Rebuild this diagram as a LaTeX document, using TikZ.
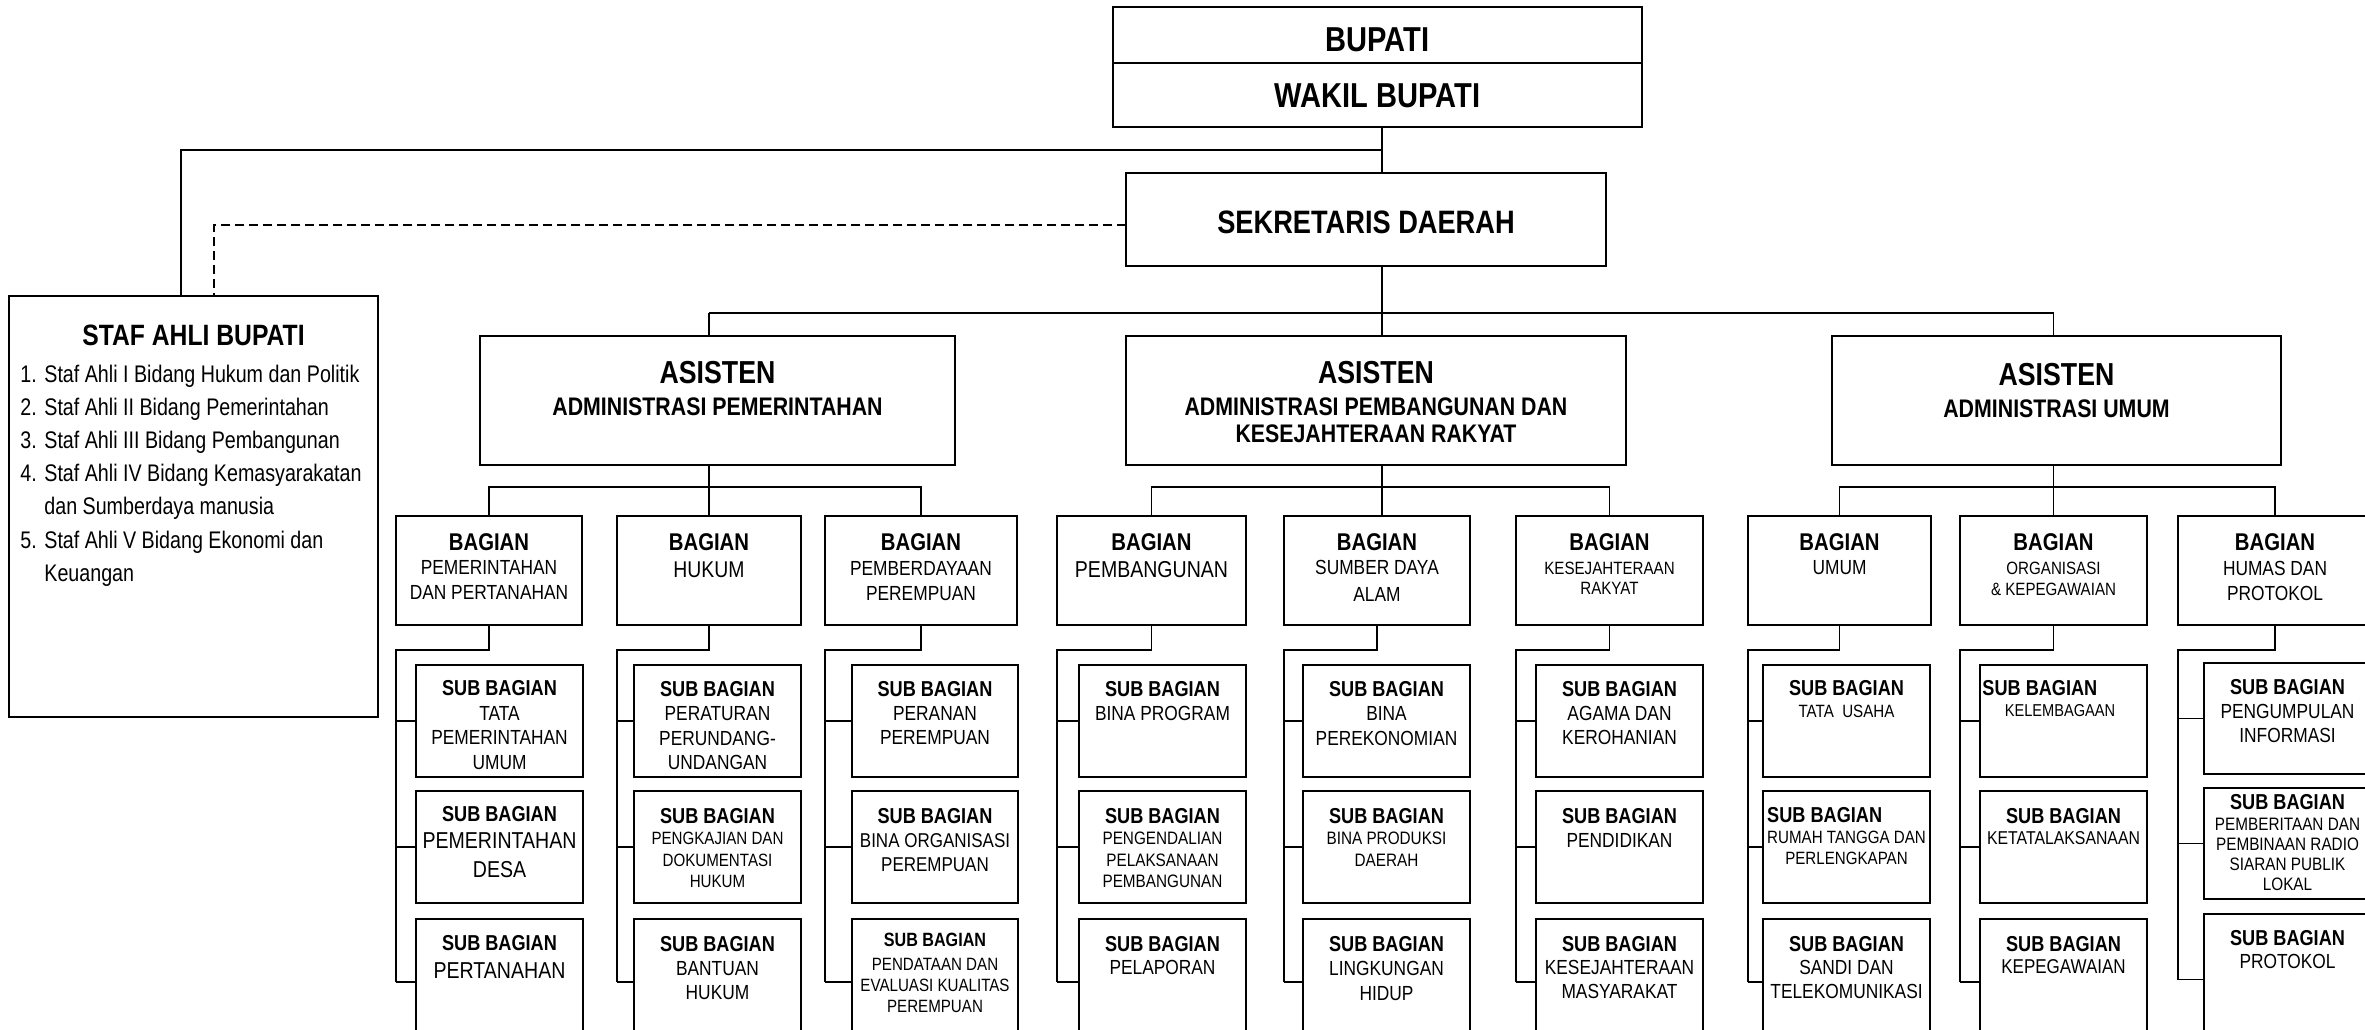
\documentclass[tikz,border=0pt]{standalone}
\usepackage{fontspec}
\setmainfont{Liberation Sans}
\newfontfamily\wfont{Liberation Sans}[FakeStretch=0.84]
\newfontfamily\nfont{Liberation Sans}[FakeStretch=0.85]
\newfontfamily\lfont{Liberation Sans}[FakeStretch=0.82]
\newcommand\ostk[4][\nfont]{\vtop{#1\fontsize{#2}{#3}\selectfont\halign{\hfil##\hfil\cr#4\crcr}}}
\newcommand\oSB{{\wfont\bfseries\fontsize{10.8pt}{11pt}\selectfont SUB BAGIAN}}
\newcommand\oSBs{{\wfont\bfseries\fontsize{9.6pt}{10pt}\selectfont SUB BAGIAN}}
\newcommand\oHB{{\wfont\bfseries\fontsize{12.1pt}{12pt}\selectfont BAGIAN}}
\newcommand\oAS{{\wfont\bfseries\fontsize{15.9pt}{14pt}\selectfont ASISTEN}}
\newcommand\ostaflist{\vtop{\lfont\fontsize{12pt}{16.6pt}\selectfont\halign{\hbox to 12pt{##\hfil}&##\hfil\cr
1.&Staf Ahli I Bidang Hukum dan Politik\cr
2.&Staf Ahli II Bidang Pemerintahan\cr
3.&Staf Ahli III Bidang Pembangunan\cr
4.&Staf Ahli IV Bidang Kemasyarakatan\cr
&dan Sumberdaya manusia\cr
5.&Staf Ahli V Bidang Ekonomi dan\cr
&Keuangan\cr}}}
\newcommand\obx[5]{\node[boxst,minimum width={(#4-#2)*0.5pt},minimum height={(#5-#3)*0.5pt}] (#1) at (#2,#3) {};}
\newcommand\otx[3]{\node[txt] (#1t) at ([yshift=-#2pt]#1.north) {#3};}
\begin{document}
\begin{tikzpicture}[x=0.5pt,y=-0.5pt,
  boxst/.style={draw,line width=1pt,anchor=north west,inner sep=0pt,outer sep=0pt},
  ln/.style={line width=0.85pt},
  dln/.style={line width=0.85pt,dash pattern=on 4.5pt off 2.5pt},
  txt/.style={anchor=base,inner sep=0pt}]
\useasboundingbox (0,0) rectangle (2365,1029);
\fill[white] (0,0) rectangle (2365,1029);
\clip (0,0) rectangle (2365,1029);
% boxes
\obx{bup}{1113}{7}{1642}{63}
\obx{wak}{1113}{63}{1642}{127}
\obx{sek}{1126}{173}{1606}{266}
\obx{staf}{9}{296}{378}{717}
\obx{a1}{480}{336}{955}{465}
\obx{a2}{1126}{336}{1626}{465}
\obx{a3}{1832}{336}{2281}{465}
\foreach \c/\xa/\xb in {1/396/582,2/617/801,3/825/1017,4/1057/1246,5/1284/1470,6/1516/1703,7/1748/1931,8/1960/2147,9/2178/2372}
  {\obx{b\c}{\xa}{516}{\xb}{625}}
\foreach \c/\xa/\xb in {1/416/583,2/634/801,3/852/1018,4/1079/1246,5/1303/1470,6/1536/1703,7/1763/1930,8/1980/2147}
  {\obx{s\c1}{\xa}{665}{\xb}{777}\obx{s\c2}{\xa}{791}{\xb}{903}\obx{s\c3}{\xa}{919}{\xb}{1045}}
\obx{s91}{2204}{663}{2371}{774}
\obx{s92}{2204}{788}{2371}{899}
\obx{s93}{2204}{914}{2371}{1045}
% connectors
\coordinate (j1) at (1382,150);
\coordinate (busA) at (0,313);
\coordinate (busB) at (0,487);
\coordinate (elb) at (0,650);
\draw[ln] (wak.south -| j1) -- (sek.north -| j1);
\draw[ln] (j1) -| ([xshift=86pt]staf.north west);
\draw[dln] ([yshift=-2.75pt]sek.west) -| ([xshift=102.5pt]staf.north west);
\draw[ln] (sek.south -| j1) -- (j1 |- busA);
\draw[ln] (b2.north |- busA) -- (b8.north |- busA);
\draw[ln] (b2.north |- busA) -- (b2.north |- a1.north);
\draw[ln] (j1 |- busA) -- (j1 |- a2.north);
\draw[ln] (b8.north |- busA) -- (b8.north |- a3.north);
\draw[ln] (b1.north) -- (b1.north |- busB) -- (b3.north |- busB) -- (b3.north);
\draw[ln] (a1.south -| b2.north) -- (b2.north);
\draw[ln] (b4.north) -- (b4.north |- busB) -- (b6.north |- busB) -- (b6.north);
\draw[ln] (a2.south -| j1) -- (b5.north -| j1);
\draw[ln] (b7.north) -- (b7.north |- busB) -- (b9.north |- busB) -- (b9.north);
\draw[ln] (a3.south -| b8.north) -- (b8.north);
\foreach \c in {1,...,9}{
  \draw[ln] (b\c.south) |- (b\c.west |- elb) -- (b\c.west |- s\c3.west);
  \foreach \r in {1,2,3}{\draw[ln] (b\c.west |- s\c\r.west) -- (s\c\r.west);}
}
% top texts
\node[txt] (bupt) at ([yshift=-22.2pt]bup.north) {\wfont\bfseries\fontsize{17.3pt}{17pt}\selectfont BUPATI};
\node[txt] (wakt) at ([yshift=-22.4pt]wak.north) {\wfont\bfseries\fontsize{17.3pt}{17pt}\selectfont WAKIL BUPATI};
\node[txt] (sekt) at ([yshift=-30pt]sek.north) {\wfont\bfseries\fontsize{16.2pt}{16pt}\selectfont SEKRETARIS DAERAH};
\node[txt] (staft) at ([yshift=-24.5pt]staf.north) {\wfont\bfseries\fontsize{14.7pt}{15pt}\selectfont STAF AHLI BUPATI};
\node[anchor=base west,inner sep=0pt] (stafl) at ([xshift=5.5pt,yshift=-43pt]staf.north west) {\ostaflist};
% asisten
\otx{a1}{23.5}{\ostk[\wfont\bfseries]{12.7pt}{13.5pt}{\oAS\cr\noalign{\vskip2.5pt} ADMINISTRASI PEMERINTAHAN}}
\otx{a2}{23.5}{\ostk[\wfont\bfseries]{12.7pt}{13.5pt}{\oAS\cr\noalign{\vskip2.5pt} ADMINISTRASI PEMBANGUNAN DAN\cr KESEJAHTERAAN RAKYAT}}
\otx{a3}{24.5}{\ostk[\wfont\bfseries]{12.7pt}{13.5pt}{\oAS\cr\noalign{\vskip2.5pt} ADMINISTRASI UMUM}}
% bagian
\otx{b1}{17}{\ostk{10.2pt}{12.25pt}{\oHB\cr PEMERINTAHAN\cr DAN PERTANAHAN}}
\otx{b2}{17}{\ostk{11.4pt}{13.5pt}{\oHB\cr HUKUM}}
\otx{b3}{17}{\ostk{10.2pt}{12.5pt}{\oHB\cr PEMBERDAYAAN\cr PEREMPUAN}}
\otx{b4}{17}{\ostk{11.5pt}{13.5pt}{\oHB\cr PEMBANGUNAN}}
\otx{b5}{17}{\ostk{10.2pt}{13.5pt}{\oHB\cr\noalign{\vskip-1.5pt} SUMBER DAYA\cr ALAM}}
\otx{b6}{17}{\ostk{8.9pt}{10pt}{\oHB\cr\noalign{\vskip2pt} KESEJAHTERAAN\cr RAKYAT}}
\otx{b7}{17}{\ostk{10.2pt}{12pt}{\oHB\cr UMUM}}
\otx{b8}{17}{\ostk{8.9pt}{10.5pt}{\oHB\cr\noalign{\vskip1.5pt} ORGANISASI\cr \& KEPEGAWAIAN}}
\otx{b9}{17}{\ostk{10.2pt}{12.5pt}{\oHB\cr HUMAS DAN\cr PROTOKOL}}
% sub bagian
\otx{s11}{15.4}{\ostk{10.2pt}{12.25pt}{\oSB\cr TATA\cr PEMERINTAHAN\cr UMUM}}
\otx{s12}{15.4}{\ostk{11.5pt}{14.5pt}{\oSB\cr\noalign{\vskip-1.3pt} PEMERINTAHAN\cr DESA}}
\otx{s13}{15.5}{\ostk{11.5pt}{14.15pt}{\oSB\cr PERTANAHAN}}
\otx{s21}{15.5}{\ostk{10.2pt}{12.25pt}{\oSB\cr PERATURAN\cr PERUNDANG-\cr UNDANGAN}}
\otx{s22}{16}{\ostk{8.9pt}{10.75pt}{\oSB\cr PENGKAJIAN DAN\cr DOKUMENTASI\cr HUKUM}}
\otx{s23}{16}{\ostk{10.2pt}{12pt}{\oSB\cr BANTUAN\cr HUKUM}}
\otx{s31}{15.5}{\ostk{10.2pt}{12pt}{\oSB\cr PERANAN\cr PEREMPUAN}}
\otx{s32}{16}{\ostk{10pt}{12pt}{\oSB\cr BINA ORGANISASI\cr PEREMPUAN}}
\otx{s33}{13.5}{\ostk{8.9pt}{10.5pt}{\oSBs\cr\noalign{\vskip1.5pt} PENDATAAN DAN\cr EVALUASI KUALITAS\cr PEREMPUAN}}
\otx{s41}{15.5}{\ostk{10.2pt}{12pt}{\oSB\cr BINA PROGRAM}}
\otx{s42}{16}{\ostk{9pt}{10.75pt}{\oSB\cr PENGENDALIAN\cr PELAKSANAAN\cr PEMBANGUNAN}}
\otx{s43}{16}{\ostk{10.2pt}{11.5pt}{\oSB\cr PELAPORAN}}
\otx{s51}{15.5}{\ostk{10.2pt}{12.25pt}{\oSB\cr BINA\cr PEREKONOMIAN}}
\otx{s52}{16}{\ostk{9pt}{10.75pt}{\oSB\cr BINA PRODUKSI\cr DAERAH}}
\otx{s53}{16}{\ostk{10.2pt}{12.25pt}{\oSB\cr LINGKUNGAN\cr HIDUP}}
\otx{s61}{15.5}{\ostk{10.2pt}{12pt}{\oSB\cr AGAMA DAN\cr KEROHANIAN}}
\otx{s62}{16}{\ostk{10.2pt}{12pt}{\oSB\cr PENDIDIKAN}}
\otx{s63}{16}{\ostk{10.2pt}{11.75pt}{\oSB\cr KESEJAHTERAAN\cr MASYARAKAT}}
\otx{s71}{15}{\ostk{8.9pt}{11pt}{\oSB\cr TATA\ \ USAHA}}
\otx{s72}{15.5}{\ostk{8.9pt}{10.5pt}{\oSB\hfill\cr RUMAH TANGGA DAN\cr PERLENGKAPAN}}
\otx{s73}{16}{\ostk{10.2pt}{11.75pt}{\oSB\cr SANDI DAN\cr TELEKOMUNIKASI}}
\node[anchor=base west,inner sep=0pt] (s81t) at ([xshift=1pt,yshift=-15pt]s81.north west) {\oSB};
\node[txt] (s81u) at ([xshift=-1.75pt,yshift=-25.5pt]s81.north) {\nfont\fontsize{8.6pt}{10pt}\selectfont KELEMBAGAAN};
\otx{s82}{16}{\ostk{9.3pt}{10.5pt}{\oSB\cr KETATALAKSANAAN}}
\otx{s83}{16}{\ostk{10pt}{11pt}{\oSB\cr KEPEGAWAIAN}}
\otx{s91}{15.5}{\ostk{10.2pt}{12pt}{\oSB\cr PENGUMPULAN\cr INFORMASI}}
\otx{s92}{10.5}{\ostk{9pt}{10pt}{\oSB\cr\noalign{\vskip0.5pt} PEMBERITAAN DAN\cr PEMBINAAN RADIO\cr SIARAN PUBLIK\cr LOKAL}}
\otx{s93}{15.5}{\ostk{10.2pt}{11.5pt}{\oSB\cr PROTOKOL}}
\end{tikzpicture}
\end{document}
